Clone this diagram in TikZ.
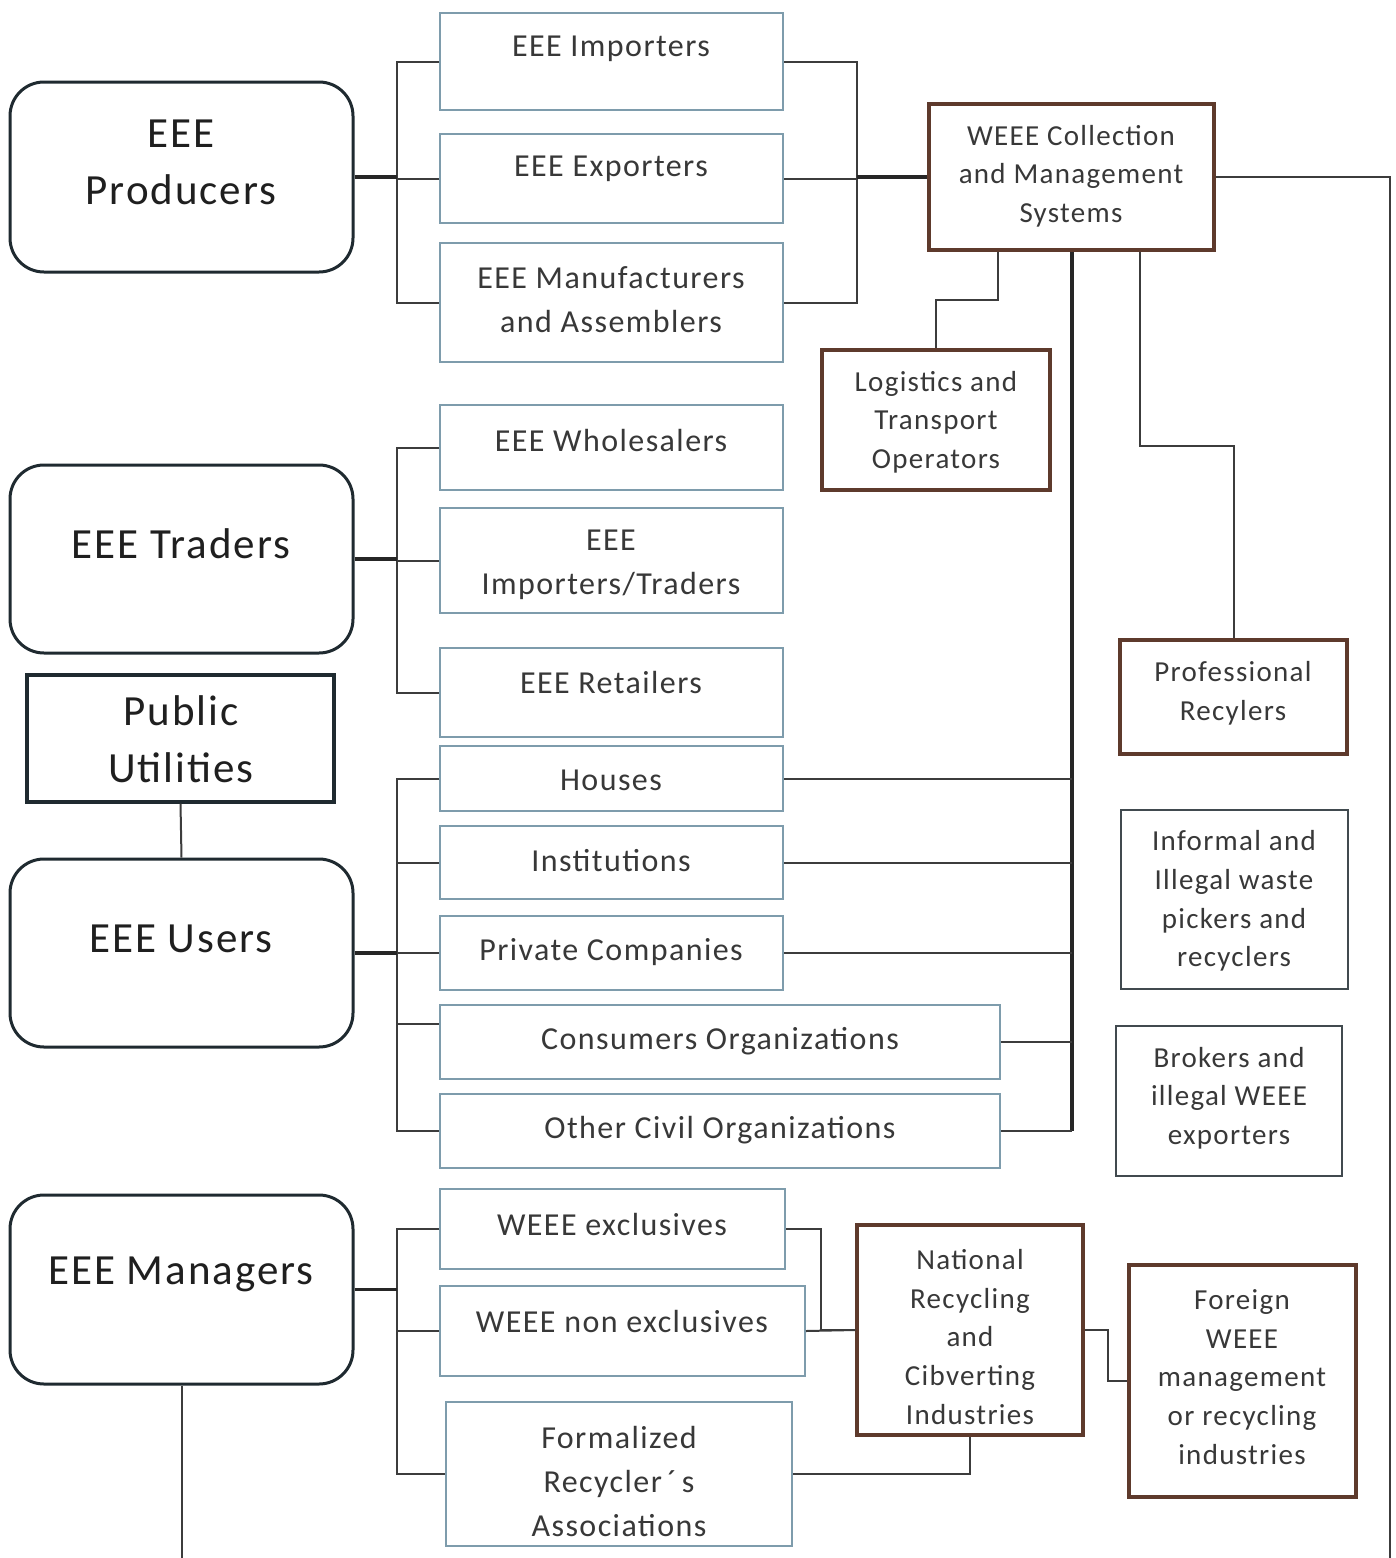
\documentclass[tikz,border=0pt]{standalone}
\usepackage{fontspec}
\setmainfont{Carlito}[LetterSpace=4.5]
\usetikzlibrary{fit,calc}
\definecolor{bluegray}{HTML}{7E9CAC}
\definecolor{brownline}{HTML}{5E3A2C}
\definecolor{darkline}{HTML}{1F2A30}
\definecolor{wirecol}{HTML}{3C3C3C}
\definecolor{txtgray}{HTML}{383838}
\newcommand\placebox[6]{\node[#2, fit={(#3,#4) (#5,#6)}] (#1) {};}
\begin{document}
\begin{tikzpicture}[x=0.5pt,y=-0.5pt,
  bluebox/.style={draw=bluegray, line width=1pt, inner sep=0pt},
  brownbox/.style={draw=brownline, line width=1.6pt, inner sep=0pt},
  greybox/.style={draw=darkline!85, line width=1pt, inner sep=0pt},
  roundbox/.style={draw=darkline, line width=1.5pt, rounded corners=17pt, inner sep=0pt},
  plainbox/.style={draw=darkline, line width=1.6pt, inner sep=0pt},
  big/.style={font=\fontsize{21.5}{28.5}\selectfont, text=black!88, align=center, inner sep=0pt},
  mid/.style={font=\fontsize{16}{22}\selectfont, text=txtgray, align=center, inner sep=0pt},
  sml/.style={font=\fontsize{14.5}{19.3}\selectfont, text=txtgray, align=center, inner sep=0pt},
  wire/.style={draw=wirecol, line width=1pt},
  bus/.style={draw=black!85, line width=1.6pt}]

\fill[white] (0,0) rectangle (1396,1558);
\useasboundingbox (0,0) rectangle (1396,1558);

% bus lines and frame edges
\coordinate (busL) at (397,0);
\coordinate (busP) at (857,0);
\coordinate (busR) at (1072,0);
\coordinate (edgeR) at (1390,1558);
\coordinate (edgeB) at (0,1558);

% ---- producers group
\placebox{prod}{roundbox}{10}{82}{353}{272}
\node[big] (prod-t) at (181,162) {EEE\\Producers};
\placebox{imp}{bluebox}{440}{13}{783}{110}
\node[mid] (imp-t) at (611,49) {EEE Importers};
\placebox{exp}{bluebox}{440}{134}{783}{223}
\node[mid] (exp-t) at (611,169) {EEE Exporters};
\placebox{man}{bluebox}{440}{243}{783}{362}
\node[mid] (man-t) at (611,300) {EEE Manufacturers\\and Assemblers};

% ---- WEEE systems
\placebox{weee}{brownbox}{929}{104}{1214}{250}
\node[sml] (weee-t) at (1071,176) {WEEE Collection\\and Management\\Systems};
\placebox{log}{brownbox}{822}{350}{1050}{490}
\node[sml] (log-t) at (936,422) {Logistics and\\Transport\\Operators};
\placebox{pro}{brownbox}{1120}{640}{1347}{754}
\node[sml] (pro-t) at (1233,693) {Professional\\Recylers};
\placebox{inf}{greybox}{1121}{810}{1348}{989}
\node[sml] (inf-t) at (1234,901) {Informal and\\Illegal waste\\pickers and\\recyclers};
\placebox{brk}{greybox}{1116}{1026}{1342}{1176}
\node[sml] (brk-t) at (1229,1098) {Brokers and\\illegal WEEE\\exporters};

% ---- traders group
\placebox{tra}{roundbox}{10}{465}{353}{653}
\node[big] (tra-t) at (181,544) {EEE Traders};
\placebox{who}{bluebox}{440}{405}{783}{490}
\node[mid] (who-t) at (611,441) {EEE Wholesalers};
\placebox{imt}{bluebox}{440}{508}{783}{613}
\node[mid] (imt-t) at (611,565) {EEE\\Importers/Traders};
\placebox{ret}{bluebox}{440}{648}{783}{737}
\node[mid] (ret-t) at (611,682) {EEE Retailers};

% ---- users group
\placebox{pub}{plainbox}{27}{675}{334}{802}
\node[big] (pub-t) at (181,739) {Public\\Utilities};
\placebox{usr}{roundbox}{10}{859}{353}{1047}
\node[big] (usr-t) at (181,939) {EEE Users};
\placebox{hou}{bluebox}{440}{746}{783}{811}
\node[mid] (hou-t) at (611,780) {Houses};
\placebox{ins}{bluebox}{440}{826}{783}{899}
\node[mid] (ins-t) at (611,861) {Institutions};
\placebox{prv}{bluebox}{440}{916}{783}{990}
\node[mid] (prv-t) at (611,952) {Private Companies};
\placebox{con}{bluebox}{440}{1005}{1000}{1079}
\node[mid] (con-t) at (720,1041) {Consumers Organizations};
\placebox{oth}{bluebox}{440}{1094}{1000}{1168}
\node[mid] (oth-t) at (720,1130) {Other Civil Organizations};

% ---- managers group
\placebox{mgr}{roundbox}{10}{1195}{353}{1384}
\node[big] (mgr-t) at (181,1274) {EEE Managers};
\placebox{wex}{bluebox}{440}{1189}{785}{1269}
\node[mid] (wex-t) at (612,1224) {WEEE exclusives};
\placebox{wnx}{bluebox}{440}{1286}{805}{1376}
\node[mid] (wnx-t) at (622,1321) {WEEE non exclusives};
\placebox{frm}{bluebox}{446}{1402}{792}{1546}
\node[mid] (frm-t) at (619,1481) {Formalized\\Recycler\,´\,s\\Associations};
\placebox{nat}{brownbox}{857}{1225}{1083}{1435}
\node[sml] (nat-t) at (970,1337) {National\\Recycling\\and\\Cibverting\\Industries};
\placebox{for}{brownbox}{1129}{1265}{1356}{1497}
\node[sml] (for-t) at (1242,1377) {Foreign\\WEEE\\management\\or recycling\\industries};

% ---- connectors: producers
\draw[wire] (imp.west) -- (imp.west -| busL) -- (man.west -| busL) -- (man.west);
\draw[wire] (exp.west) -- (exp.west -| busL);
\draw[bus] (prod.east) -- (prod.east -| busL);
\draw[wire] (imp.east) -- (imp.east -| busP) -- (man.east -| busP) -- (man.east);
\draw[wire] (exp.east) -- (exp.east -| busP);
\draw[bus] (weee.west -| busP) -- (weee.west);

% ---- connectors: collection systems
\draw[wire] (weee.east) -| (edgeR);
\draw[wire] ($(weee.south west)+(71,0)$) -- ++(0,48) -| (log.north);
\draw[wire] ($(weee.south west)+(213,0)$) -- ++(0,194) -| (pro.north);
\draw[bus] (weee.south -| busR) -- (oth.east -| busR);

% ---- connectors: traders
\draw[wire] (who.west) -- (who.west -| busL) -- (ret.west -| busL) -- (ret.west);
\draw[wire] (imt.west) -- (imt.west -| busL);
\draw[bus] (tra.east) -- (tra.east -| busL);

% ---- connectors: users
\draw[wire] (pub.south) -- (usr.north);
\draw[wire] (hou.west) -- (hou.west -| busL) -- (oth.west -| busL) -- (oth.west);
\draw[wire] (ins.west) -- (ins.west -| busL);
\draw[wire] (prv.west) -- (prv.west -| busL);
\draw[wire] ($(con.west)+(0,-18)$) -- ($(con.west -| busL)+(0,-18)$);
\draw[bus] (usr.east) -- (usr.east -| busL);
\draw[wire] (hou.east) -- (hou.east -| busR);
\draw[wire] (ins.east) -- (ins.east -| busR);
\draw[wire] (prv.east) -- (prv.east -| busR);
\draw[wire] (con.east) -- (con.east -| busR);
\draw[wire] (oth.east) -- (oth.east -| busR);

% ---- connectors: managers
\draw[wire] (wex.west) -- (wex.west -| busL) -- (frm.west -| busL) -- (frm.west);
\draw[wire] (wnx.west) -- (wnx.west -| busL);
\draw[bus] (mgr.east) -- (mgr.east -| busL);
\draw[wire] (wex.east) -- ++(35,0) |- (nat.west);
\draw[wire] (wnx.east) -- (nat.west);
\draw[wire] (frm.east) -| (nat.south);
\draw[wire] (nat.east) -- ++(23,0) |- (for.west);
\draw[wire] (mgr.south) -- (mgr.south |- edgeB);

\end{tikzpicture}
\end{document}
